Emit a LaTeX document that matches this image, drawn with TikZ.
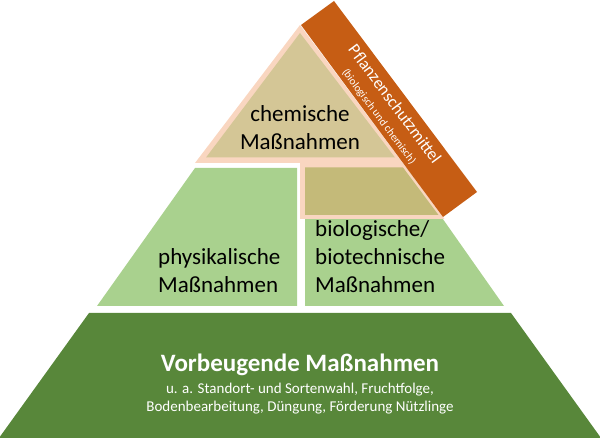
\documentclass[tikz,border=0pt]{standalone}
\usepackage{fontspec}
\setmainfont{Carlito}
\definecolor{darkgreen}{HTML}{58873A}
\definecolor{lightgreen}{HTML}{A9D18E}
\definecolor{khaki}{HTML}{D4C696}
\definecolor{khakidark}{HTML}{C4BA79}
\definecolor{peach}{HTML}{F9D6C0}
\definecolor{bandorange}{HTML}{C65D14}
\tikzset{
  lbl/.style={inner sep=0pt, font=\fontsize{23}{28}\selectfont, text=black},
  titlelbl/.style={inner sep=0pt, font=\bfseries\fontsize{25}{30}\selectfont, text=white},
  sublbl/.style={inner sep=0pt, font=\fontsize{15}{18}\selectfont, text=white},
  bandlbl/.style={inner sep=0pt, text=white, rotate=-53.35},
}
\begin{document}
\begin{tikzpicture}[x=1pt,y=-1pt]
\useasboundingbox (0,0) rectangle (600,438);
% bottom layer
\fill[darkgreen] (89,313) -- (511,313) -- (601,438) -- (-1,438) -- cycle;
% middle layer
\fill[lightgreen] (195,168) -- (297,168) -- (297,306) -- (97,306) -- cycle;
\fill[lightgreen] (305,168) -- (407,168) -- (504,306) -- (305,306) -- cycle;
% top triangle with peach border
\fill[peach] (300,25) -- (195,163) -- (300,163) -- (300,219) -- (444.5,219) -- cycle;
\fill[khaki] (300,33) -- (206,157.5) -- (395,157.5) -- cycle;
\fill[khakidark] (305,167.5) -- (403,167.5) -- (438.5,215) -- (305,215) -- cycle;
% band
\fill[bandorange] (301,25) -- (334,1) -- (477,192) -- (443,217) -- cycle;
% texts
\node[lbl, anchor=base] (c1) at (300,122) {chemische};
\node[lbl, anchor=base] (c2) at (300,150) {Maßnahmen};
\node[lbl, anchor=base west] (p1) at (158,265) {physikalische};
\node[lbl, anchor=base west] (p2) at (158,293) {Maßnahmen};
\node[lbl, anchor=base west] (b1) at (315,237) {biologische/};
\node[lbl, anchor=base west] (b2) at (315,265) {biotechnische};
\node[lbl, anchor=base west] (b3) at (315,293) {Maßnahmen};
\node[titlelbl, anchor=base] (v1) at (300,372) {Vorbeugende Maßnahmen};
\node[sublbl, anchor=base] (v2) at (300,393) {u. a. Standort- und Sortenwahl, Fruchtfolge,};
\node[sublbl, anchor=base] (v3) at (300,411) {Bodenbearbeitung, Düngung, Förderung Nützlinge};
\node[bandlbl, font=\fontsize{17}{20}\selectfont] (ps1) at (395.1,103.9) {Pflanzenschutzmittel};
\node[bandlbl, font=\fontsize{11}{13}\selectfont] (ps2) at (378.8,116.8) {(biologisch und chemisch)};
\end{tikzpicture}
\end{document}
